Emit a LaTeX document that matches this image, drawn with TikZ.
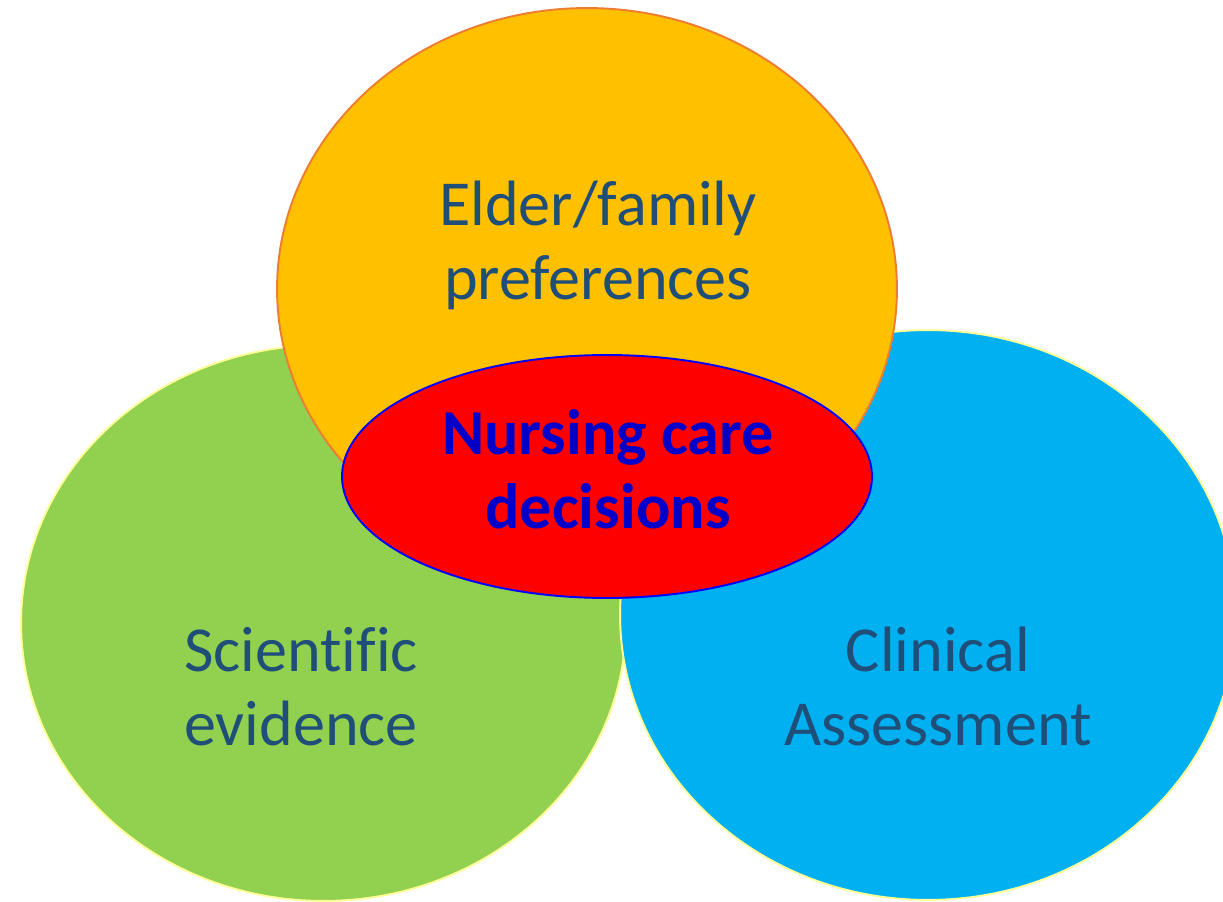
\documentclass[tikz,border=0pt]{standalone}
\usepackage{fontspec}
\setmainfont{Carlito}[Ligatures=CommonOff]
\usetikzlibrary{shapes.geometric}

\definecolor{leafgreen}{HTML}{92D050}
\definecolor{skyblue}{HTML}{00B0F0}
\definecolor{amber}{HTML}{FFC000}
\definecolor{rimorange}{HTML}{ED7D31}
\definecolor{rimyellow}{HTML}{FFFF99}
\definecolor{inkblue}{HTML}{1F4E79}
\definecolor{deepblue}{HTML}{0000C8}

\begin{document}
\begin{tikzpicture}[x=0.02cm, y=-0.02cm,
  circ/.style={ellipse, line width=1.1pt, inner sep=0pt},
  lbl/.style={align=center, anchor=base, inner sep=0pt, text=inkblue,
    font=\fontsize{36.5}{42}\selectfont},
  core/.style={lbl, text=deepblue, font=\fontsize{36.5}{42}\selectfont\bfseries}]
  \useasboundingbox (0,0) rectangle (1223,902);

  % the three overlapping areas
  \node (evid) [circ, fill=leafgreen, draw=rimyellow,
    minimum width=12.1cm, minimum height=11.12cm] at (323.5,623) {};
  \node (clin) [circ, fill=skyblue, draw=rimyellow,
    minimum width=12.32cm, minimum height=11.4cm] at (928,615) {};
  \node (pref) [circ, fill=amber, draw=rimorange,
    minimum width=12.4cm, minimum height=11.24cm] at (587,289) {};
  % centre
  \node (care) [circ, fill=red, draw=blue,
    minimum width=10.6cm, minimum height=4.86cm] at (607,476.5) {};

  % base = baseline of the last line
  \node (preftext) [lbl] at (598,299) {Elder/family\\preferences};
  \node (evidtext) [lbl] at (301,745) {Scientific\\evidence};
  \node (clintext) [lbl] at (938,745) {Clinical\\Assessment};
  \node (caretext) [core] at (608,528) {Nursing care\\decisions};
\end{tikzpicture}
\end{document}
